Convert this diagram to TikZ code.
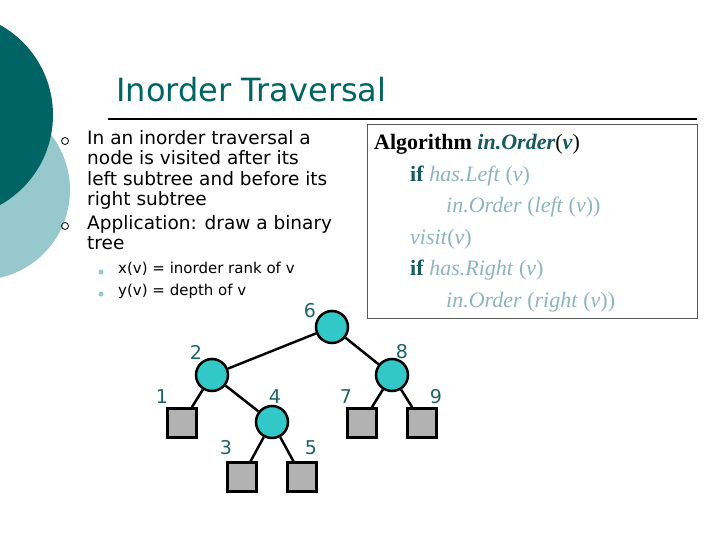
\documentclass[tikz,border=0pt]{standalone}
\usepackage{fontspec}
\setmainfont{DejaVu Sans}
\newfontfamily\algfont{Liberation Serif}
\definecolor{dteal}{RGB}{0,100,100}
\definecolor{lteal}{RGB}{150,200,205}
\definecolor{nfill}{RGB}{50,200,200}
\definecolor{lblc}{RGB}{30,100,100}
\definecolor{kw}{RGB}{20,90,95}
\definecolor{fn}{RGB}{140,180,190}
\begin{document}
\begin{tikzpicture}[x=1pt,y=-1pt,
  inode/.style={circle,draw=black,line width=2.5pt,fill=nfill,minimum size=32pt,inner sep=0},
  leaf/.style={rectangle,draw=black,line width=2.5pt,fill=gray!60,minimum size=29pt,inner sep=0},
  lbl/.style={text=lblc,font=\fontsize{19}{19}\selectfont},
  edge/.style={line width=2.5pt},
  bul/.style={anchor=north west,align=left,font=\fontsize{18.5}{20.5}\selectfont,inner sep=0}]
\useasboundingbox (0,0) rectangle (720,540);
\clip (0,0) rectangle (720,540);
\fill[lteal] (-20,190) circle (90);
\fill[dteal] (-50,115) circle (103);
\node[anchor=west,text=dteal,font=\fontsize{32}{32}\selectfont] (title) at (113,90) {Inorder Traversal};
\draw[line width=1.5pt] (108,119) -- (697,119);
% bullets
\draw[line width=0.8pt] (65,141) circle (3.5);
\draw[line width=0.8pt] (65,226) circle (3.5);
\node[bul] (t1) at (87,130) {In an inorder traversal a\\node is visited after its\\left subtree and before its\\right subtree};
\node[bul] (t2) at (87,215) {Application: draw a binary\\tree};
\fill[lteal] (101,272) circle (2.5);
\fill[lteal] (101,294) circle (2.5);
\node[bul,font=\fontsize{15}{22}\selectfont] (t3) at (118,262) {x(v) = inorder rank of v\\y(v) = depth of v};
% algorithm box
\draw[line width=0.8pt,draw=gray!70!black] (367,124) rectangle (697,318);
\node[anchor=north west,inner sep=0,align=left,font=\algfont\fontsize{22}{31.6}\selectfont] (alg) at (374,134) {%
\textbf{Algorithm} \textcolor{kw}{\textbf{\textit{in.Order}}}(\textcolor{kw}{\textbf{\textit{v}}})\\
\hspace*{36pt}\textcolor{kw}{\textbf{if}} \textcolor{fn}{\textit{has.Left} (\textit{v})}\\
\hspace*{72pt}\textcolor{fn}{\textit{in.Order} (\textit{left} (\textit{v}))}\\
\hspace*{36pt}\textcolor{fn}{\textit{visit}(\textit{v})}\\
\hspace*{36pt}\textcolor{kw}{\textbf{if}} \textcolor{fn}{\textit{has.Right} (\textit{v})}\\
\hspace*{72pt}\textcolor{fn}{\textit{in.Order} (\textit{right} (\textit{v}))}};
% tree
\node[inode] (n6) at (332,327) {};
\node[inode] (n2) at (212,375) {};
\node[inode] (n8) at (392,375) {};
\node[inode] (n4) at (272,422) {};
\node[leaf] (n1) at (182,423) {};
\node[leaf] (n3) at (242,477) {};
\node[leaf] (n5) at (302,477) {};
\node[leaf] (n7) at (362,423) {};
\node[leaf] (n9) at (422,423) {};
\draw[edge] (n6) -- (n2);
\draw[edge] (n6) -- (n8);
\draw[edge] (n2) -- (n1);
\draw[edge] (n2) -- (n4);
\draw[edge] (n4) -- (n3);
\draw[edge] (n4) -- (n5);
\draw[edge] (n8) -- (n7);
\draw[edge] (n8) -- (n9);
\node[lbl] (l6) at (310,311) {6};
\node[lbl] (l2) at (196,352) {2};
\node[lbl] (l8) at (402,352) {8};
\node[lbl] (l1) at (162,397) {1};
\node[lbl] (l4) at (275,397) {4};
\node[lbl] (l7) at (346,397) {7};
\node[lbl] (l9) at (436,397) {9};
\node[lbl] (l3) at (226,448) {3};
\node[lbl] (l5) at (311,448) {5};
\end{tikzpicture}
\end{document}
